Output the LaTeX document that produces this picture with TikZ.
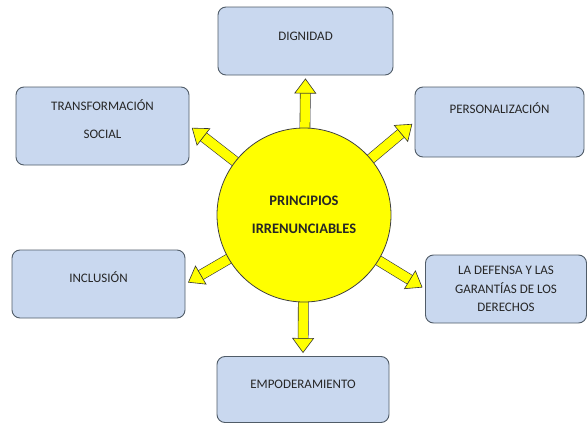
\documentclass[tikz,border=0pt]{standalone}
\usepackage{fontspec}
\setmainfont{Carlito}
\usetikzlibrary{arrows.meta,backgrounds}
\definecolor{boxfill}{HTML}{C9D8EF}
\definecolor{boxline}{HTML}{505C68}
\definecolor{labeltext}{HTML}{262626}
\definecolor{sunyellow}{HTML}{FFFF00}
\tikzset{
  principle/.style={draw=boxline, fill=boxfill, rounded corners=8pt, line width=0.9pt,
    text=labeltext, font=\fontsize{13}{15.6}\selectfont, align=center, inner sep=2pt},
  hub/.style={circle, draw=black!75, fill=sunyellow, line width=0.8pt, minimum size=174pt,
    text=black!85, font=\fontsize{14.5}{17.4}\selectfont\bfseries, align=center},
  arrowlink/.style={line width=9.5pt, draw=sunyellow, shorten >=3pt,
    -{Triangle[length=15pt,width=22pt,fill=sunyellow,color=black!80,line width=0.6pt]},
    preaction={draw=black!80, line width=10.7pt, -, shorten >=17pt}}
}
\begin{document}
\begin{tikzpicture}[x=1pt,y=-1pt]
	\useasboundingbox (0,0) rectangle (587,423);

	\node[hub] (circ) at (304,215) {PRINCIPIOS\\[10.6pt]IRRENUNCIABLES};

	\node[principle, minimum width=175pt, minimum height=68pt, text depth=10pt] (dig) at (305.5,41) {DIGNIDAD};
	\node[principle, minimum width=173pt, minimum height=78pt, text depth=14pt] (trans) at (102.5,126) {TRANSFORMACIÓN\\[12.4pt]SOCIAL};
	\node[principle, minimum width=169pt, minimum height=70pt, text depth=27pt] (pers) at (499.5,122) {PERSONALIZACIÓN};
	\node[principle, minimum width=173pt, minimum height=68pt, text depth=13pt] (incl) at (98.5,284) {INCLUSIÓN};
	\node[principle, minimum width=161pt, minimum height=68pt] (def) at (506,289) {LA DEFENSA Y LAS\\[2.9pt]GARANTÍAS DE LOS\\[2.9pt]DERECHOS};
	\node[principle, minimum width=172pt, minimum height=66pt, text depth=11pt] (emp) at (303,389.5) {EMPODERAMIENTO};

	% flechas desde el centro
	\begin{scope}[on background layer]
		\foreach \t/\a in {dig/south, trans/east, pers/west, incl/east, def/west, emp/north} {
				\draw[arrowlink] (circ.center) -- (\t.\a);
			}
	\end{scope}
\end{tikzpicture}
\end{document}
